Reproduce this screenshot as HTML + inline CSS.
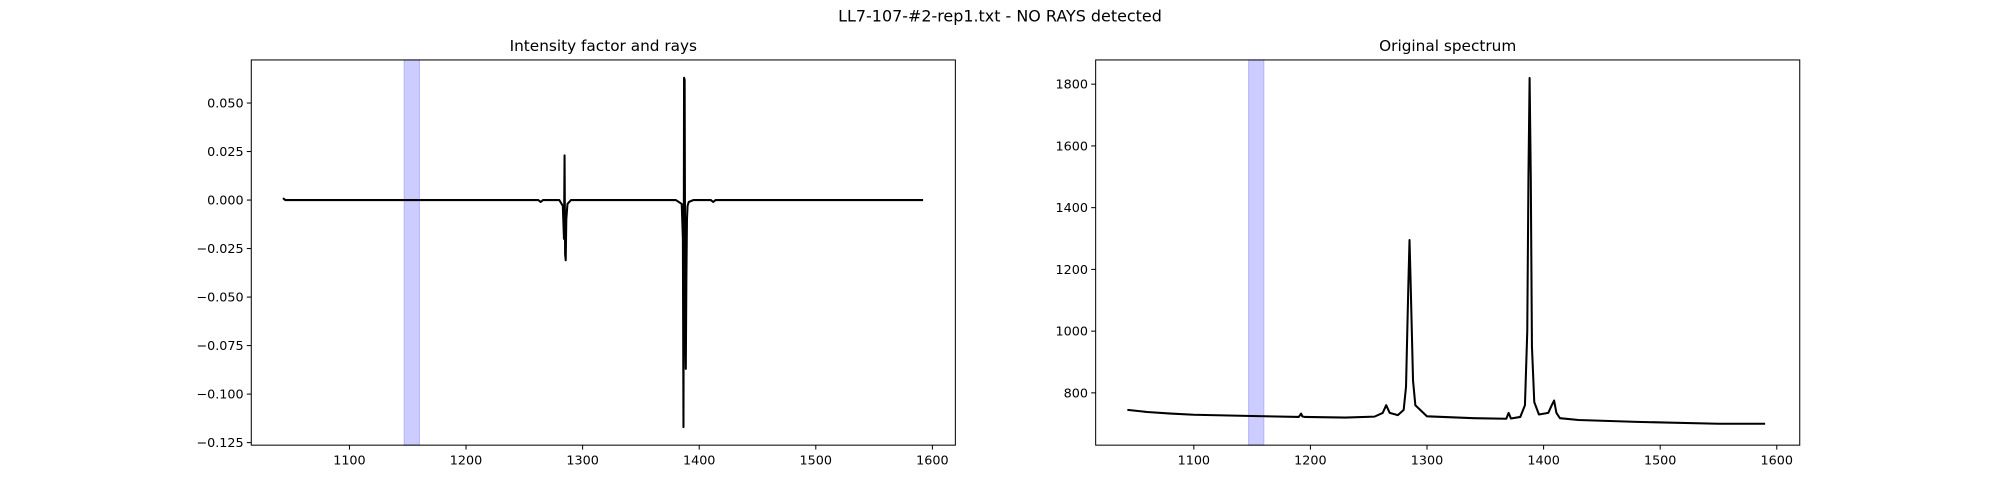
<!DOCTYPE html>
<html><head><meta charset="utf-8"><style>
body{margin:0;background:#fff;font-family:"Liberation Sans","DejaVu Sans",sans-serif;overflow:hidden}
svg text{font-family:"DejaVu Sans","Liberation Sans",sans-serif}
</style></head><body>
<svg id="fig" width="2000" height="500" viewBox="0 0 1568 392" preserveAspectRatio="none" xmlns="http://www.w3.org/2000/svg" style="display:block">
<rect width="1568" height="392" fill="#fff"/>
<text x="784" y="17" font-size="12.5" text-anchor="middle">LL7-107-#2-rep1.txt - NO RAYS detected</text>
<g id="p1"></g>
<g id="p2"></g>
</svg>
<script>
const leftX=[1043,1045,1050,1100,1200,1262,1264,1266,1280,1283,1284,1284.5,1285,1285.5,1286,1287,1290,1380,1385,1386,1386.5,1387,1387.5,1388,1388.5,1389,1389.5,1390,1391,1395,1410,1412,1414,1500,1592];
const leftY=[0.001,0.0,0.0,0.0,0.0,0.0,-0.001,0.0,0.0,-0.003,-0.02,0.023,-0.028,-0.031,-0.01,-0.002,0.0,0.0,-0.002,-0.02,-0.117,0.063,0.062,-0.06,-0.087,-0.04,-0.01,-0.003,-0.001,0.0,0.0,-0.001,0.0,0.0,0.0];
const rightX=[1043,1060,1080,1100,1150,1190,1192,1193,1195,1230,1255,1262,1265,1268,1275,1280,1282,1284,1285,1286,1288,1290,1300,1340,1368,1370,1372,1380,1384,1386,1387,1388,1389,1390,1392,1396,1404,1407,1409,1411,1414,1430,1480,1550,1590];
const rightY=[745,738,733,729,725,722,733,724,722,720,723,735,760,735,728,745,820,1150,1295,1150,840,760,724,718,716,735,717,722,760,1000,1500,1820,1500,950,770,730,735,760,775,735,718,712,706,700,700];
const leftTicksX=[1100,1200,1300,1400,1500,1600];
const leftTicksY=[0.05,0.025,0,-0.025,-0.05,-0.075,-0.1,-0.125];
const rightTicksY=[800,1000,1200,1400,1600,1800];
const band=[1147,1160];
const NS="http://www.w3.org/2000/svg";
function mk(p,t,a){const e=document.createElementNS(NS,t);for(const k in a)e.setAttribute(k,a[k]);p.appendChild(e);return e;}
function panel(g,L,R,xmin,xmax,ymin,ymax,xs,ys,yt,fmt,title){
 const T=47,B=349;
 const sx=v=>L+(v-xmin)/(xmax-xmin)*(R-L), sy=v=>B-(v-ymin)/(ymax-ymin)*(B-T);
 const bd=mk(g,'rect',{x:sx(band[0]),y:T,width:sx(band[1])-sx(band[0]),height:B-T,fill:'#ccccff',stroke:'#b3b3ff','stroke-width':0.8});
 
 
 const d=xs.map((x,i)=>(i?'L':'M')+sx(x).toFixed(2)+','+sy(ys[i]).toFixed(2)).join('');
 const ln=mk(g,'path',{d:d,fill:'none',stroke:'#000','stroke-width':1.6,'stroke-linejoin':'round'});
 
 
 mk(g,'rect',{x:L,y:T,width:R-L,height:B-T,fill:'none',stroke:'#000','stroke-width':0.8});
 const tt=mk(g,'text',{x:(L+R)/2,y:40,'font-size':12,'text-anchor':'middle'});tt.textContent=title;
 
 
 leftTicksX.forEach(v=>{const x=sx(v);mk(g,'line',{x1:x,x2:x,y1:B,y2:B+3.5,stroke:'#000','stroke-width':0.8});
  const t=mk(g,'text',{x:x,y:B+15,'font-size':10,'text-anchor':'middle'});t.textContent=v;
  
  });
 yt.forEach(v=>{const y=sy(v);mk(g,'line',{x1:L-3.5,x2:L,y1:y,y2:y,stroke:'#000','stroke-width':0.8});
  const t=mk(g,'text',{x:L-6,y:y+3.5,'font-size':10,'text-anchor':'end'});t.textContent=fmt(v);
  
  });
}
panel(document.getElementById('p1'),197,749,1015.8,1619.7,-0.1263,0.0722,leftX,leftY,leftTicksY,v=>(v<0?'\u2212':'')+Math.abs(v).toFixed(3),'Intensity factor and rays');
panel(document.getElementById('p2'),859,1411,1015.8,1619.7,630.6,1878.5,rightX,rightY,rightTicksY,v=>String(v),'Original spectrum');
</script>
</body></html>
